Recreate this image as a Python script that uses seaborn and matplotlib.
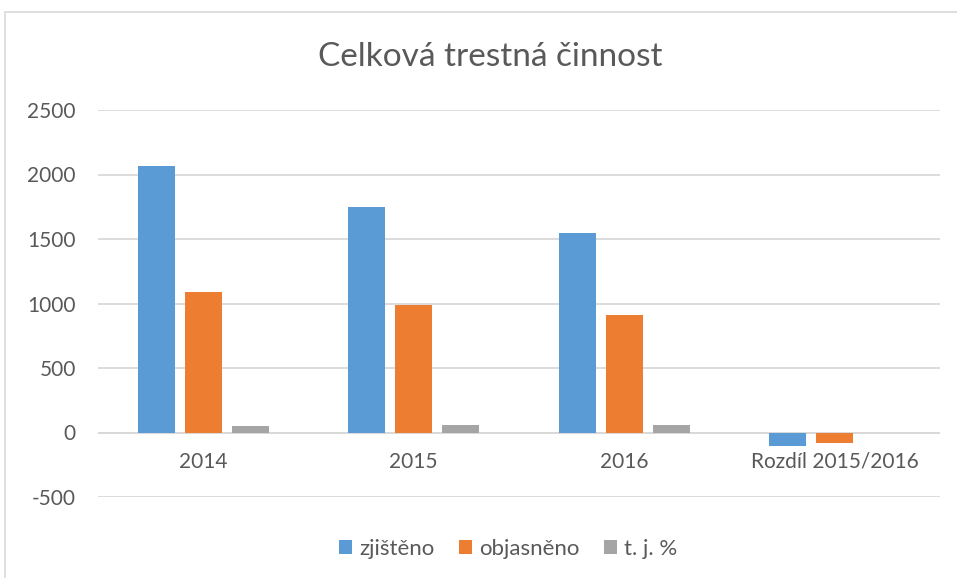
import pandas as pd
import numpy as np
import matplotlib.pyplot as plt
import seaborn as sns
from matplotlib.patches import Rectangle

# data
categories = ['2014', '2015', '2016', 'Rozdíl 2015/2016']
series = ['zjištěno', 'objasněno', 't. j. %']
zjisteno = [2068, 1751, 1547, -101]
objasneno = [1090, 991, 910, -82]
tj_pct = [52, 56, 60, 0]

colors = ['#5B9BD5', '#ED7D31', '#A5A5A5']

df = pd.DataFrame({
    'kategorie': categories * 3,
    'serie': [series[0]] * 4 + [series[1]] * 4 + [series[2]] * 4,
    'hodnota': zjisteno + objasneno + tj_pct,
})

sns.set_style('white')
plt.rcParams['font.family'] = ['Lato', 'DejaVu Sans']
plt.rcParams['axes.unicode_minus'] = False

fig = plt.figure(figsize=(9.57, 5.78), dpi=100)
ax = fig.add_axes([98 / 957, 1 - 497 / 578, (940 - 98) / 957, (497 - 110) / 578])

sns.barplot(data=df, x='kategorie', y='hodnota', hue='serie', order=categories,
            hue_order=series, palette=colors, width=0.67, gap=0.21,
            saturation=1, edgecolor='none', ax=ax, legend=True)

ax.set_xlim(-0.5, 3.5)
ax.set_ylim(-500, 2500)
ax.set_yticks(np.arange(-500, 2501, 500))
ax.yaxis.grid(True, color='#d9d9d9', linewidth=1.3)
ax.set_axisbelow(True)
ax.axhline(0, color='#d9d9d9', linewidth=1.3, zorder=0.5)
ax.spines['bottom'].set_position(('data', 0))
for s in ax.spines.values():
    s.set_visible(False)
ax.set_xlabel('')
ax.set_ylabel('')
ax.tick_params(axis='both', length=0, labelsize=15, colors='#595959')
ax.tick_params(axis='y', pad=16)
ax.tick_params(axis='x', pad=14)

fig.text(490 / 957, 1 - 57 / 578, 'Celková trestná činnost', ha='center', va='center',
         fontsize=24, color='#595959')

handles, labels = ax.get_legend_handles_labels()
ax.legend_.remove()
fig.legend(handles, labels, loc='center', bbox_to_anchor=(508 / 957, 1 - 549 / 578),
           ncol=3, frameon=False, fontsize=16, handlelength=0.6, handleheight=0.6,
           handletextpad=0.3, columnspacing=1.1, labelcolor='#595959')

# outer chart border
fig.patches.append(Rectangle((5 / 957, -0.1), 960 / 957, 1 - 12 / 578 + 0.1,
                             transform=fig.transFigure, fill=False,
                             edgecolor='#d9d9d9', linewidth=1.2))

fig.savefig('out.png', dpi=100)
